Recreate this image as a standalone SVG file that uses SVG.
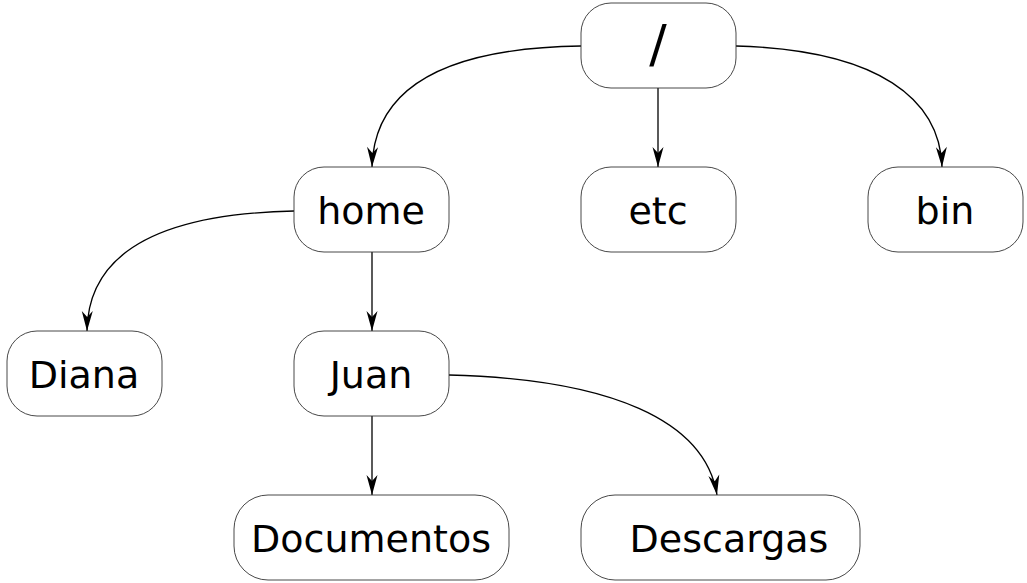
<svg xmlns="http://www.w3.org/2000/svg" width="1027" height="583" viewBox="0 0 1027 583">
<style>
.node rect{fill:#fff;stroke:#333;stroke-width:0.9}
.node text{font-family:"DejaVu Sans",sans-serif;font-size:38px;fill:#000;text-anchor:middle}
.edge{fill:none;stroke:#000;stroke-width:1.3;marker-end:url(#arr)}
</style>
<defs>
<marker id="arr" markerUnits="userSpaceOnUse" markerWidth="24" markerHeight="14" viewBox="-21 -7 22 14" refX="0" refY="0" orient="auto">
<path d="M0,0 L-20,-5.5 L-14,0 L-20,5.5 Z" fill="#000"/>
</marker>
</defs>
<rect width="1027" height="583" fill="#fff"/>
<g id="connectors">
<path class="edge" d="M581,46 C440,48 374,90 372,167"/>
<path class="edge" d="M658,88 L658,167"/>
<path class="edge" d="M736,46 C880,50 940,100 942,167"/>
<path class="edge" d="M294,211 C150,214 88,258 87,331"/>
<path class="edge" d="M372,252 L372,331"/>
<path class="edge" d="M372,416 L372,495"/>
<path class="edge" d="M449,375 C610,379 705,420 717,495"/>
</g>
<g id="node-root" class="node"><rect x="581" y="3" width="155" height="85" rx="30" ry="30"/><text x="658" y="62" style="font-size:52px">/</text></g>
<g id="node-home" class="node"><rect x="294" y="167" width="155" height="85" rx="30" ry="30"/><text x="371" y="224">home</text></g>
<g id="node-etc" class="node"><rect x="581" y="167" width="155" height="85" rx="30" ry="30"/><text x="658" y="224">etc</text></g>
<g id="node-bin" class="node"><rect x="868" y="167" width="155" height="85" rx="30" ry="30"/><text x="945" y="224">bin</text></g>
<g id="node-diana" class="node"><rect x="7" y="331" width="155" height="85" rx="30" ry="30"/><text x="84" y="388">Diana</text></g>
<g id="node-juan" class="node"><rect x="294" y="331" width="155" height="85" rx="30" ry="30"/><text x="371" y="388">Juan</text></g>
<g id="node-documentos" class="node"><rect x="234" y="495" width="275" height="85" rx="34" ry="34"/><text x="371" y="552">Documentos</text></g>
<g id="node-descargas" class="node"><rect x="581" y="495" width="279" height="85" rx="34" ry="34"/><text x="729" y="552">Descargas</text></g>
</svg>
